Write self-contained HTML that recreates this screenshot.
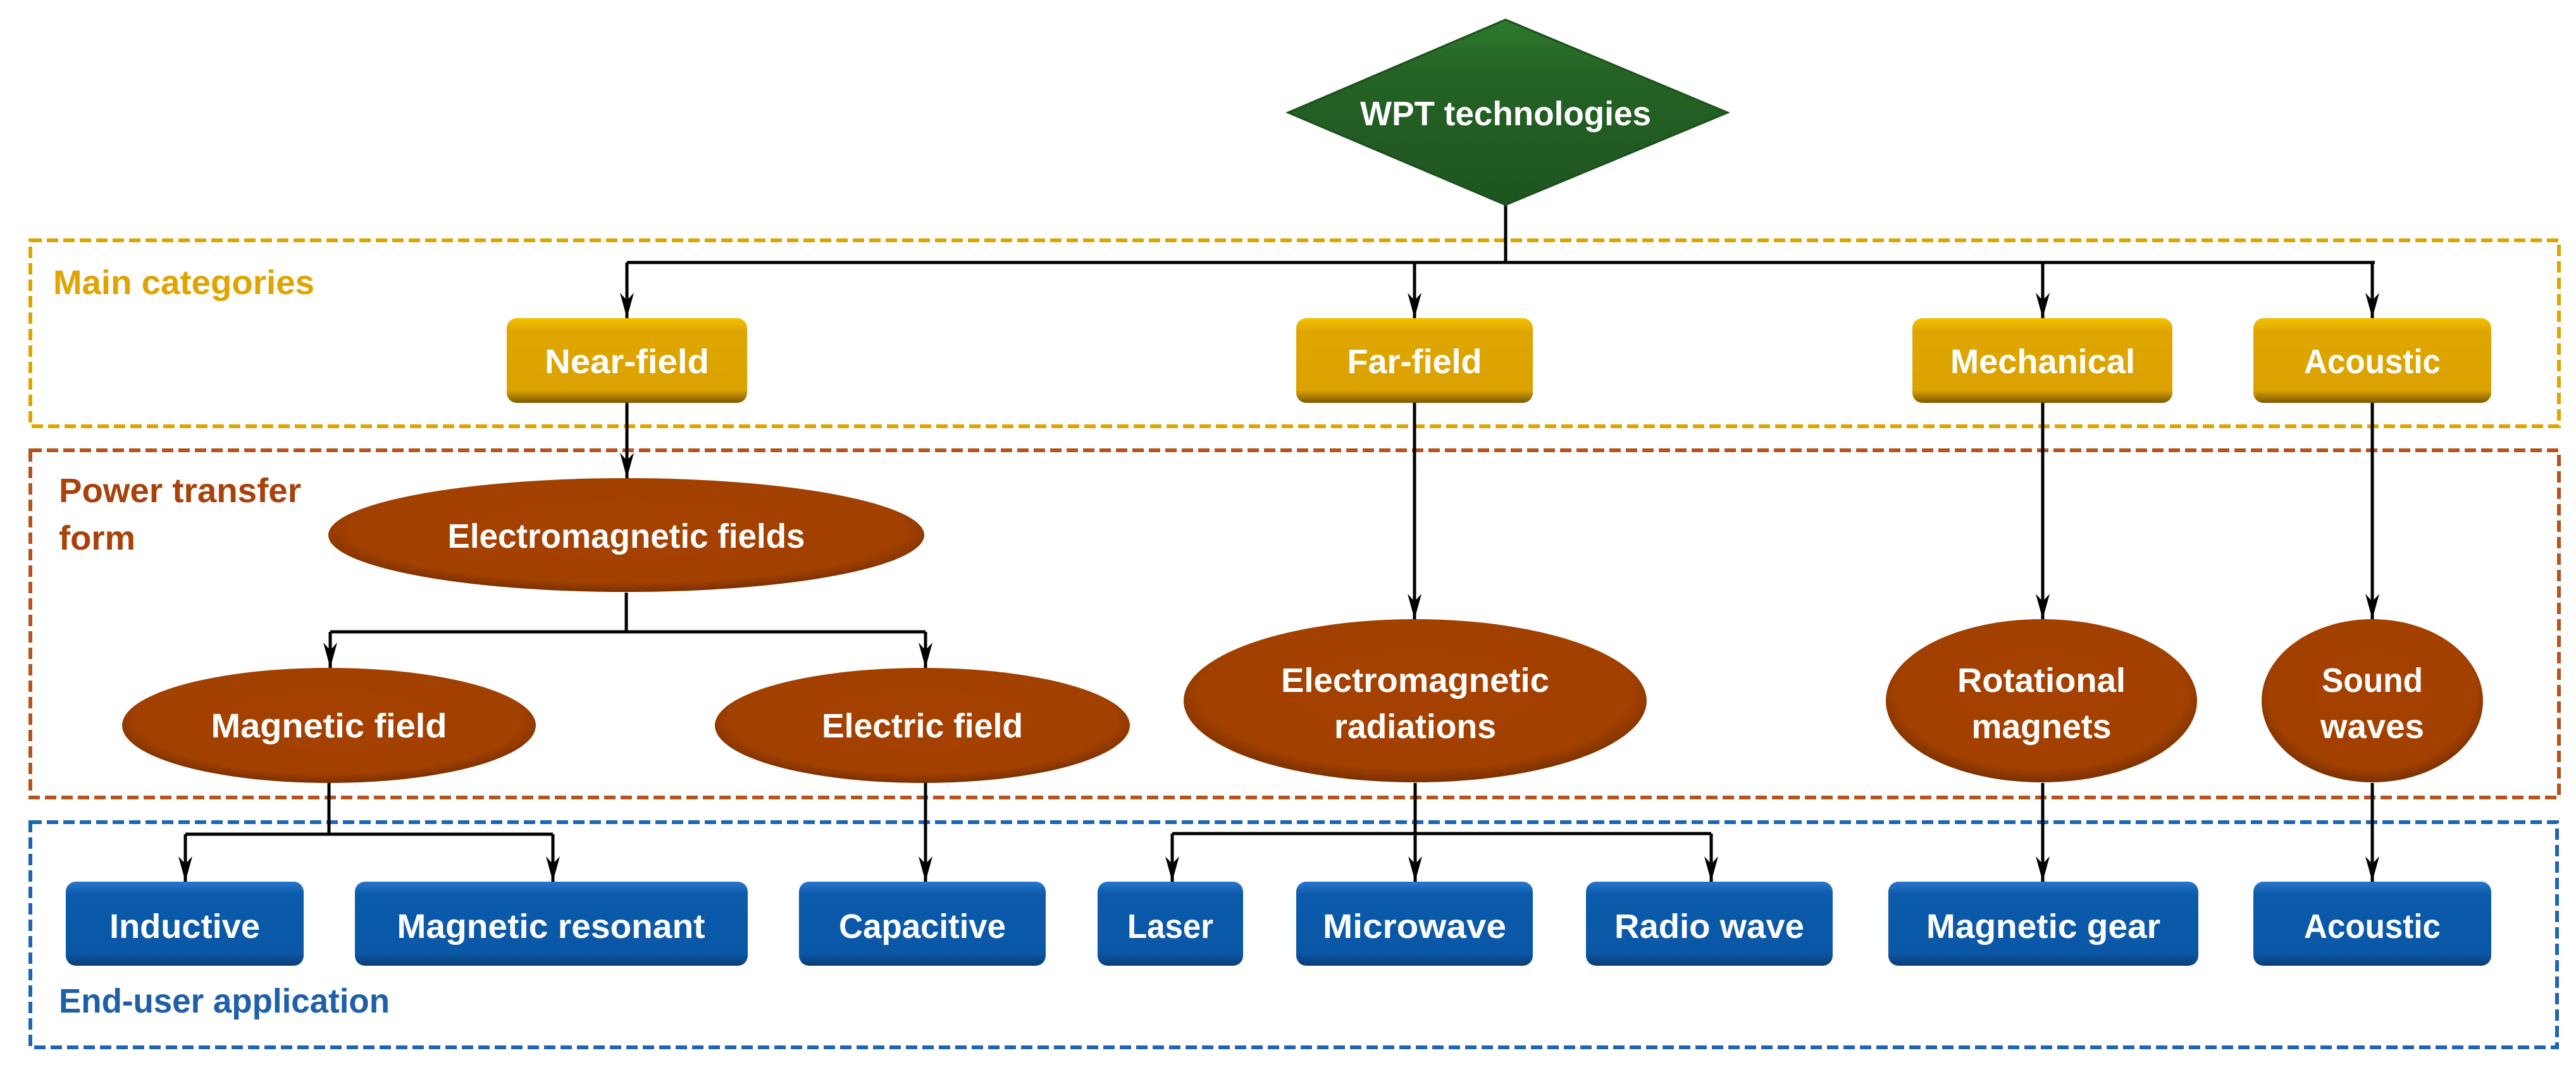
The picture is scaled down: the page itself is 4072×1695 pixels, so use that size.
<!DOCTYPE html>
<html><head><meta charset="utf-8"><style>
html,body{margin:0;padding:0;background:#fff;}
svg{display:block;}
text{font-family:"Liberation Sans",sans-serif;font-weight:bold;}
.w{fill:#fff;font-size:54px;}
</style></head><body>
<svg width="4072" height="1695" viewBox="0 0 4072 1695" xmlns="http://www.w3.org/2000/svg">
<defs>
<linearGradient id="gy" x1="0" y1="0" x2="0" y2="1">
<stop offset="0" stop-color="#f2c200"/><stop offset="0.15" stop-color="#e0a600"/><stop offset="0.85" stop-color="#dba200"/><stop offset="1" stop-color="#7a5a00"/></linearGradient>
<linearGradient id="gb" x1="0" y1="0" x2="0" y2="1">
<stop offset="0" stop-color="#2a78cc"/><stop offset="0.15" stop-color="#0b5aab"/><stop offset="0.85" stop-color="#0a57a6"/><stop offset="1" stop-color="#0a3d75"/></linearGradient>
<radialGradient id="gr" cx="0.5" cy="0.45" r="0.55">
<stop offset="0" stop-color="#a54000"/><stop offset="0.85" stop-color="#a24000"/><stop offset="1" stop-color="#7a3000"/></radialGradient>
<linearGradient id="gg" x1="0" y1="0" x2="0" y2="1">
<stop offset="0" stop-color="#2d7a2d"/><stop offset="0.3" stop-color="#256225"/><stop offset="1" stop-color="#1e5520"/></linearGradient>
<marker id="ar" markerWidth="22" markerHeight="40" refX="11" refY="40" orient="0" markerUnits="userSpaceOnUse">
<path d="M0,0 L11,12 L22,0 L11,40 Z" fill="#000"/></marker>
</defs>

<!-- dashed group boxes -->
<rect x="48" y="380" width="3997" height="294" fill="none" stroke="#e0a400" stroke-width="6" stroke-dasharray="18,8"/>
<rect x="48" y="712" width="3997" height="549" fill="none" stroke="#b5541c" stroke-width="6" stroke-dasharray="18,8"/>
<rect x="48" y="1300" width="3994" height="356" fill="none" stroke="#1f65b5" stroke-width="6" stroke-dasharray="18,8"/>

<text x="84" y="465" font-size="54" fill="#e0a400" textLength="413" lengthAdjust="spacingAndGlyphs">Main categories</text>
<text x="93" y="794" font-size="54" fill="#a8420a" textLength="383" lengthAdjust="spacingAndGlyphs">Power transfer</text>
<text x="93" y="869" font-size="54" fill="#a8420a" textLength="121" lengthAdjust="spacingAndGlyphs">form</text>
<text x="93" y="1601" font-size="54" fill="#1f5fa8" textLength="523" lengthAdjust="spacingAndGlyphs">End-user application</text>

<!-- connectors -->
<g stroke="#000" stroke-width="5" fill="none">
<path d="M2380,324 V415"/>
<path d="M991,415 H3754"/>
<path d="M991,415 V503" marker-end="url(#ar)"/>
<path d="M2236,415 V503" marker-end="url(#ar)"/>
<path d="M3229,415 V503" marker-end="url(#ar)"/>
<path d="M3750,415 V503" marker-end="url(#ar)"/>
<path d="M991,637 V756" marker-end="url(#ar)"/>
<path d="M2236,637 V979" marker-end="url(#ar)"/>
<path d="M3229,637 V979" marker-end="url(#ar)"/>
<path d="M3750,637 V979" marker-end="url(#ar)"/>
<path d="M990,937 V999"/>
<path d="M522,999 H1463"/>
<path d="M522,999 V1056" marker-end="url(#ar)"/>
<path d="M1463,999 V1056" marker-end="url(#ar)"/>
<path d="M520,1238 V1319"/>
<path d="M293,1319 H874"/>
<path d="M293,1319 V1394" marker-end="url(#ar)"/>
<path d="M874,1319 V1394" marker-end="url(#ar)"/>
<path d="M1463,1238 V1394" marker-end="url(#ar)"/>
<path d="M2237,1238 V1394" marker-end="url(#ar)"/>
<path d="M1853,1318 H2705"/>
<path d="M1853,1318 V1394" marker-end="url(#ar)"/>
<path d="M2705,1318 V1394" marker-end="url(#ar)"/>
<path d="M3229,1238 V1394" marker-end="url(#ar)"/>
<path d="M3750,1238 V1394" marker-end="url(#ar)"/>
</g>

<!-- diamond -->
<polygon points="2380,31 2731,178 2380,324 2036,178" fill="url(#gg)" stroke="#1c4f1c" stroke-width="3"/>
<text class="w" x="2380" y="198" text-anchor="middle" textLength="460" lengthAdjust="spacingAndGlyphs">WPT technologies</text>

<!-- yellow boxes -->
<g fill="url(#gy)">
<rect x="801" y="503" width="380" height="134" rx="16"/>
<rect x="2049" y="503" width="374" height="134" rx="16"/>
<rect x="3023" y="503" width="411" height="134" rx="16"/>
<rect x="3562" y="503" width="376" height="134" rx="16"/>
</g>
<text class="w" x="991" y="590" text-anchor="middle" textLength="260" lengthAdjust="spacingAndGlyphs">Near-field</text>
<text class="w" x="2236" y="590" text-anchor="middle" textLength="213" lengthAdjust="spacingAndGlyphs">Far-field</text>
<text class="w" x="3229" y="590" text-anchor="middle" textLength="292" lengthAdjust="spacingAndGlyphs">Mechanical</text>
<text class="w" x="3750" y="590" text-anchor="middle" textLength="216" lengthAdjust="spacingAndGlyphs">Acoustic</text>

<!-- brown ellipses -->
<g fill="url(#gr)">
<ellipse cx="990" cy="846" rx="471" ry="90"/>
<ellipse cx="520" cy="1147" rx="327" ry="91"/>
<ellipse cx="1458" cy="1147" rx="328" ry="91"/>
<ellipse cx="2237" cy="1108" rx="366" ry="129"/>
<ellipse cx="3227" cy="1108" rx="246" ry="129"/>
<ellipse cx="3750" cy="1108" rx="175" ry="129"/>
</g>
<text class="w" x="990" y="866" text-anchor="middle" textLength="565" lengthAdjust="spacingAndGlyphs">Electromagnetic fields</text>
<text class="w" x="520" y="1166" text-anchor="middle" textLength="373" lengthAdjust="spacingAndGlyphs">Magnetic field</text>
<text class="w" x="1458" y="1166" text-anchor="middle" textLength="318" lengthAdjust="spacingAndGlyphs">Electric field</text>
<text class="w" x="2237" y="1094" text-anchor="middle" textLength="424" lengthAdjust="spacingAndGlyphs">Electromagnetic</text>
<text class="w" x="2237" y="1167" text-anchor="middle" textLength="256" lengthAdjust="spacingAndGlyphs">radiations</text>
<text class="w" x="3227" y="1094" text-anchor="middle" textLength="266" lengthAdjust="spacingAndGlyphs">Rotational</text>
<text class="w" x="3227" y="1167" text-anchor="middle" textLength="221" lengthAdjust="spacingAndGlyphs">magnets</text>
<text class="w" x="3750" y="1094" text-anchor="middle" textLength="160" lengthAdjust="spacingAndGlyphs">Sound</text>
<text class="w" x="3750" y="1167" text-anchor="middle" textLength="164" lengthAdjust="spacingAndGlyphs">waves</text>

<!-- blue boxes -->
<g fill="url(#gb)">
<rect x="104" y="1394" width="376" height="133" rx="16"/>
<rect x="561" y="1394" width="621" height="133" rx="16"/>
<rect x="1263" y="1394" width="390" height="133" rx="16"/>
<rect x="1735" y="1394" width="230" height="133" rx="16"/>
<rect x="2049" y="1394" width="374" height="133" rx="16"/>
<rect x="2507" y="1394" width="390" height="133" rx="16"/>
<rect x="2985" y="1394" width="490" height="133" rx="16"/>
<rect x="3562" y="1394" width="376" height="133" rx="16"/>
</g>
<text class="w" x="292" y="1483" text-anchor="middle" textLength="238" lengthAdjust="spacingAndGlyphs">Inductive</text>
<text class="w" x="871" y="1483" text-anchor="middle" textLength="487" lengthAdjust="spacingAndGlyphs">Magnetic resonant</text>
<text class="w" x="1458" y="1483" text-anchor="middle" textLength="264" lengthAdjust="spacingAndGlyphs">Capacitive</text>
<text class="w" x="1850" y="1483" text-anchor="middle" textLength="136" lengthAdjust="spacingAndGlyphs">Laser</text>
<text class="w" x="2236" y="1483" text-anchor="middle" textLength="290" lengthAdjust="spacingAndGlyphs">Microwave</text>
<text class="w" x="2702" y="1483" text-anchor="middle" textLength="300" lengthAdjust="spacingAndGlyphs">Radio wave</text>
<text class="w" x="3230" y="1483" text-anchor="middle" textLength="370" lengthAdjust="spacingAndGlyphs">Magnetic gear</text>
<text class="w" x="3750" y="1483" text-anchor="middle" textLength="216" lengthAdjust="spacingAndGlyphs">Acoustic</text>
</svg>
</body></html>
